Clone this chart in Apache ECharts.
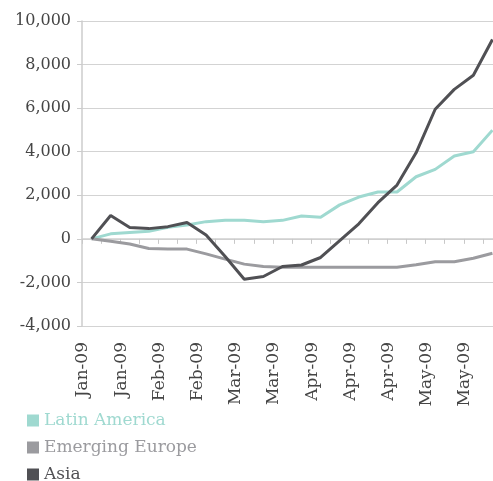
<!DOCTYPE html>
<html>
<head>
<meta charset="utf-8">
<script src="https://cdn.jsdelivr.net/npm/echarts@6/dist/echarts.min.js"></script>
<style>html,body{margin:0;padding:0;background:#fff}#c{width:493px;height:481px}</style>
</head>
<body>
<div id="c"></div>
<script>
// weekly observations (labels shown every second week)
var categories = ["Jan-09","Jan-09","Jan-09","Jan-09","Feb-09","Feb-09","Feb-09","Feb-09","Mar-09","Mar-09","Mar-09","Mar-09","Apr-09","Apr-09","Apr-09","Apr-09","Apr-09","May-09","May-09","May-09","May-09","Jun-09"];
var latinAmerica = [0,230,290,350,530,640,790,850,850,790,850,1050,990,1560,1920,2150,2150,2850,3190,3800,4000,4990];
var emergingEurope = [0,-110,-240,-440,-470,-470,-690,-930,-1160,-1270,-1300,-1300,-1300,-1300,-1300,-1300,-1300,-1190,-1050,-1050,-890,-660];
var asia = [0,1070,520,470,560,750,180,-810,-1850,-1730,-1270,-1200,-855,-80,690,1660,2470,3950,5950,6860,7510,9150];
var yMin = -4000, yMax = 10000, yStep = 2000;

var C_LAT = '#9fd9d0', C_EUR = '#9b9b9f', C_ASIA = '#505054';
var TXT = '#454545';
var FONT = 'DejaVu Serif';
var chart = echarts.init(document.getElementById('c'), null, {renderer: 'canvas'});
chart.setOption({
  animation: false,
  textStyle: {fontFamily: FONT},
  grid: {left: 82, width: 420, top: 21, height: 305, containLabel: false, outerBoundsMode: 'none'},
  legend: {
    orient: 'vertical', left: 27, top: 412, height: 90, padding: 0, itemWidth: 12, itemHeight: 12, itemGap: 10,
    icon: 'rect',
    textStyle: {fontFamily: FONT, fontSize: 17, lineHeight: 16},
    data: [
      {name: 'Latin America', textStyle: {color: C_LAT}},
      {name: 'Emerging Europe', textStyle: {color: C_EUR}},
      {name: 'Asia', textStyle: {color: C_ASIA}}
    ]
  },
  xAxis: {
    type: 'category', data: categories, boundaryGap: true, position: 'bottom',
    axisLine: {show: true, onZero: true, lineStyle: {color: '#d0d0d0', width: 1.5}},
    axisTick: {show: true, inside: false, length: 5, interval: 0, lineStyle: {color: '#c8c8c8', width: 1}},
    axisLabel: {rotate: 90, interval: 1, margin: 16, verticalAlign: 'bottom', padding: [0,0,0,0],
      color: TXT, fontFamily: FONT, fontSize: 17}
  },
  yAxis: {
    type: 'value', min: yMin, max: yMax, interval: yStep,
    axisLine: {show: true, lineStyle: {color: '#cccccc', width: 1.5}},
    axisTick: {show: true, length: 5, lineStyle: {color: '#cccccc'}},
    splitLine: {lineStyle: {color: '#d3d3d3', width: 1}},
    axisLabel: {color: TXT, fontFamily: FONT, fontSize: 16, margin: 11}
  },
  series: [
    {name: 'Latin America', type: 'line', data: latinAmerica, showSymbol: false, color: C_LAT, lineStyle: {width: 3, color: C_LAT}},
    {name: 'Emerging Europe', type: 'line', data: emergingEurope, showSymbol: false, color: C_EUR, lineStyle: {width: 3, color: C_EUR}},
    {name: 'Asia', type: 'line', data: asia, showSymbol: false, color: C_ASIA, lineStyle: {width: 3, color: C_ASIA}, z: 3}
  ]
});
</script>
</body>
</html>
